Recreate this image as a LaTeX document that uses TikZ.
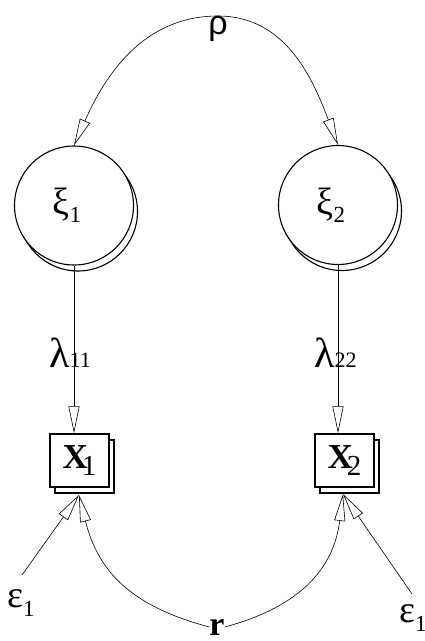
\documentclass[tikz,border=0pt]{standalone}
\usepackage{fontspec}
\setmainfont{Liberation Serif}
\newfontfamily\grsans{Liberation Sans}
\usetikzlibrary{arrows.meta,shadows}
\newcommand{\fsz}[1]{\fontsize{#1}{#1}\selectfont}
\tikzset{
	latent/.style={circle,draw,line width=1.1pt,minimum size=119pt,inner sep=0pt,fill=white,
		copy shadow={shadow xshift=4pt,shadow yshift=-6pt,draw,line width=1.1pt,fill=white}},
	manifest/.style={rectangle,draw,line width=1.4pt,minimum width=59pt,minimum height=53pt,inner sep=0pt,fill=white,
		copy shadow={shadow xshift=5pt,shadow yshift=-6pt,draw,line width=1.4pt,fill=white}},
	effect/.style={line width=0.6pt,-{Triangle[open,length=27pt,width=11pt]}},
	lab/.style={inner sep=0pt}
}
\begin{document}
\begin{tikzpicture}[x=1pt,y=1pt]
		\useasboundingbox (0,-641) rectangle (425,0);
		\node[latent] (xi1) at (74,-205.5) {\fsz{38}ξ\raisebox{-8pt}{\fsz{23}1}\kern14pt};
		\node[latent] (xi2) at (338,-205) {\fsz{38}ξ\raisebox{-8pt}{\fsz{23}2}\kern14pt};
		\node[manifest] (x1) at (79.5,-460.5) {{\fsz{35}\bfseries X}\kern-6pt\raisebox{-7pt}{\fsz{29}1}};
		\node[manifest] (x2) at (344.5,-460.5) {{\fsz{35}\bfseries X}\kern-6pt\raisebox{-7pt}{\fsz{29}2}};
		\node[lab,anchor=north] (rho) at (218,-16) {\fsz{34}\grsans ρ};
		\node[lab] (r) at (217,-627) {\fsz{34}\bfseries r};
		\node[lab,anchor=base west] (e1) at (7,-607) {\fsz{38}ε\raisebox{-9pt}{\fsz{23}1}};
		\node[lab,anchor=base west] (e2) at (399,-622) {\fsz{38}ε\raisebox{-9pt}{\fsz{23}1}};
		\coordinate (e1t) at (22,-575);
		\coordinate (e2t) at (412,-594);
		\coordinate (x1b) at (79,-495);
		\coordinate (x2b) at (343,-494);
		%correlation des facteurs
		\draw[effect] (rho.north) to[out=180,in=66] (xi1.north);
		\draw[effect] (rho.north) to[out=0,in=111] (xi2.north);
		%saturations
		\draw[effect] (xi1.south) -- (xi1.south |- x1.north);
		\draw[effect] (xi2.south) -- (xi2.south |- x2.north);
		\node[lab,anchor=base west] (l11) at (49,-367) {{\fsz{42}λ}{\fsz{22}11}};
		\node[lab,anchor=base west] (l22) at (314,-367) {{\fsz{42}λ}{\fsz{22}22}};
		%erreurs
		\draw[effect] (e1t) -- (x1b);
		\draw[effect] (e2t) -- (x2b);
		\draw[effect] (r.west) to[out=165,in=-76,looseness=1.1] (x1b);
		\draw[effect] (r.east) to[out=15,in=-97,looseness=1.1] (x2b);
	\end{tikzpicture}
\end{document}
